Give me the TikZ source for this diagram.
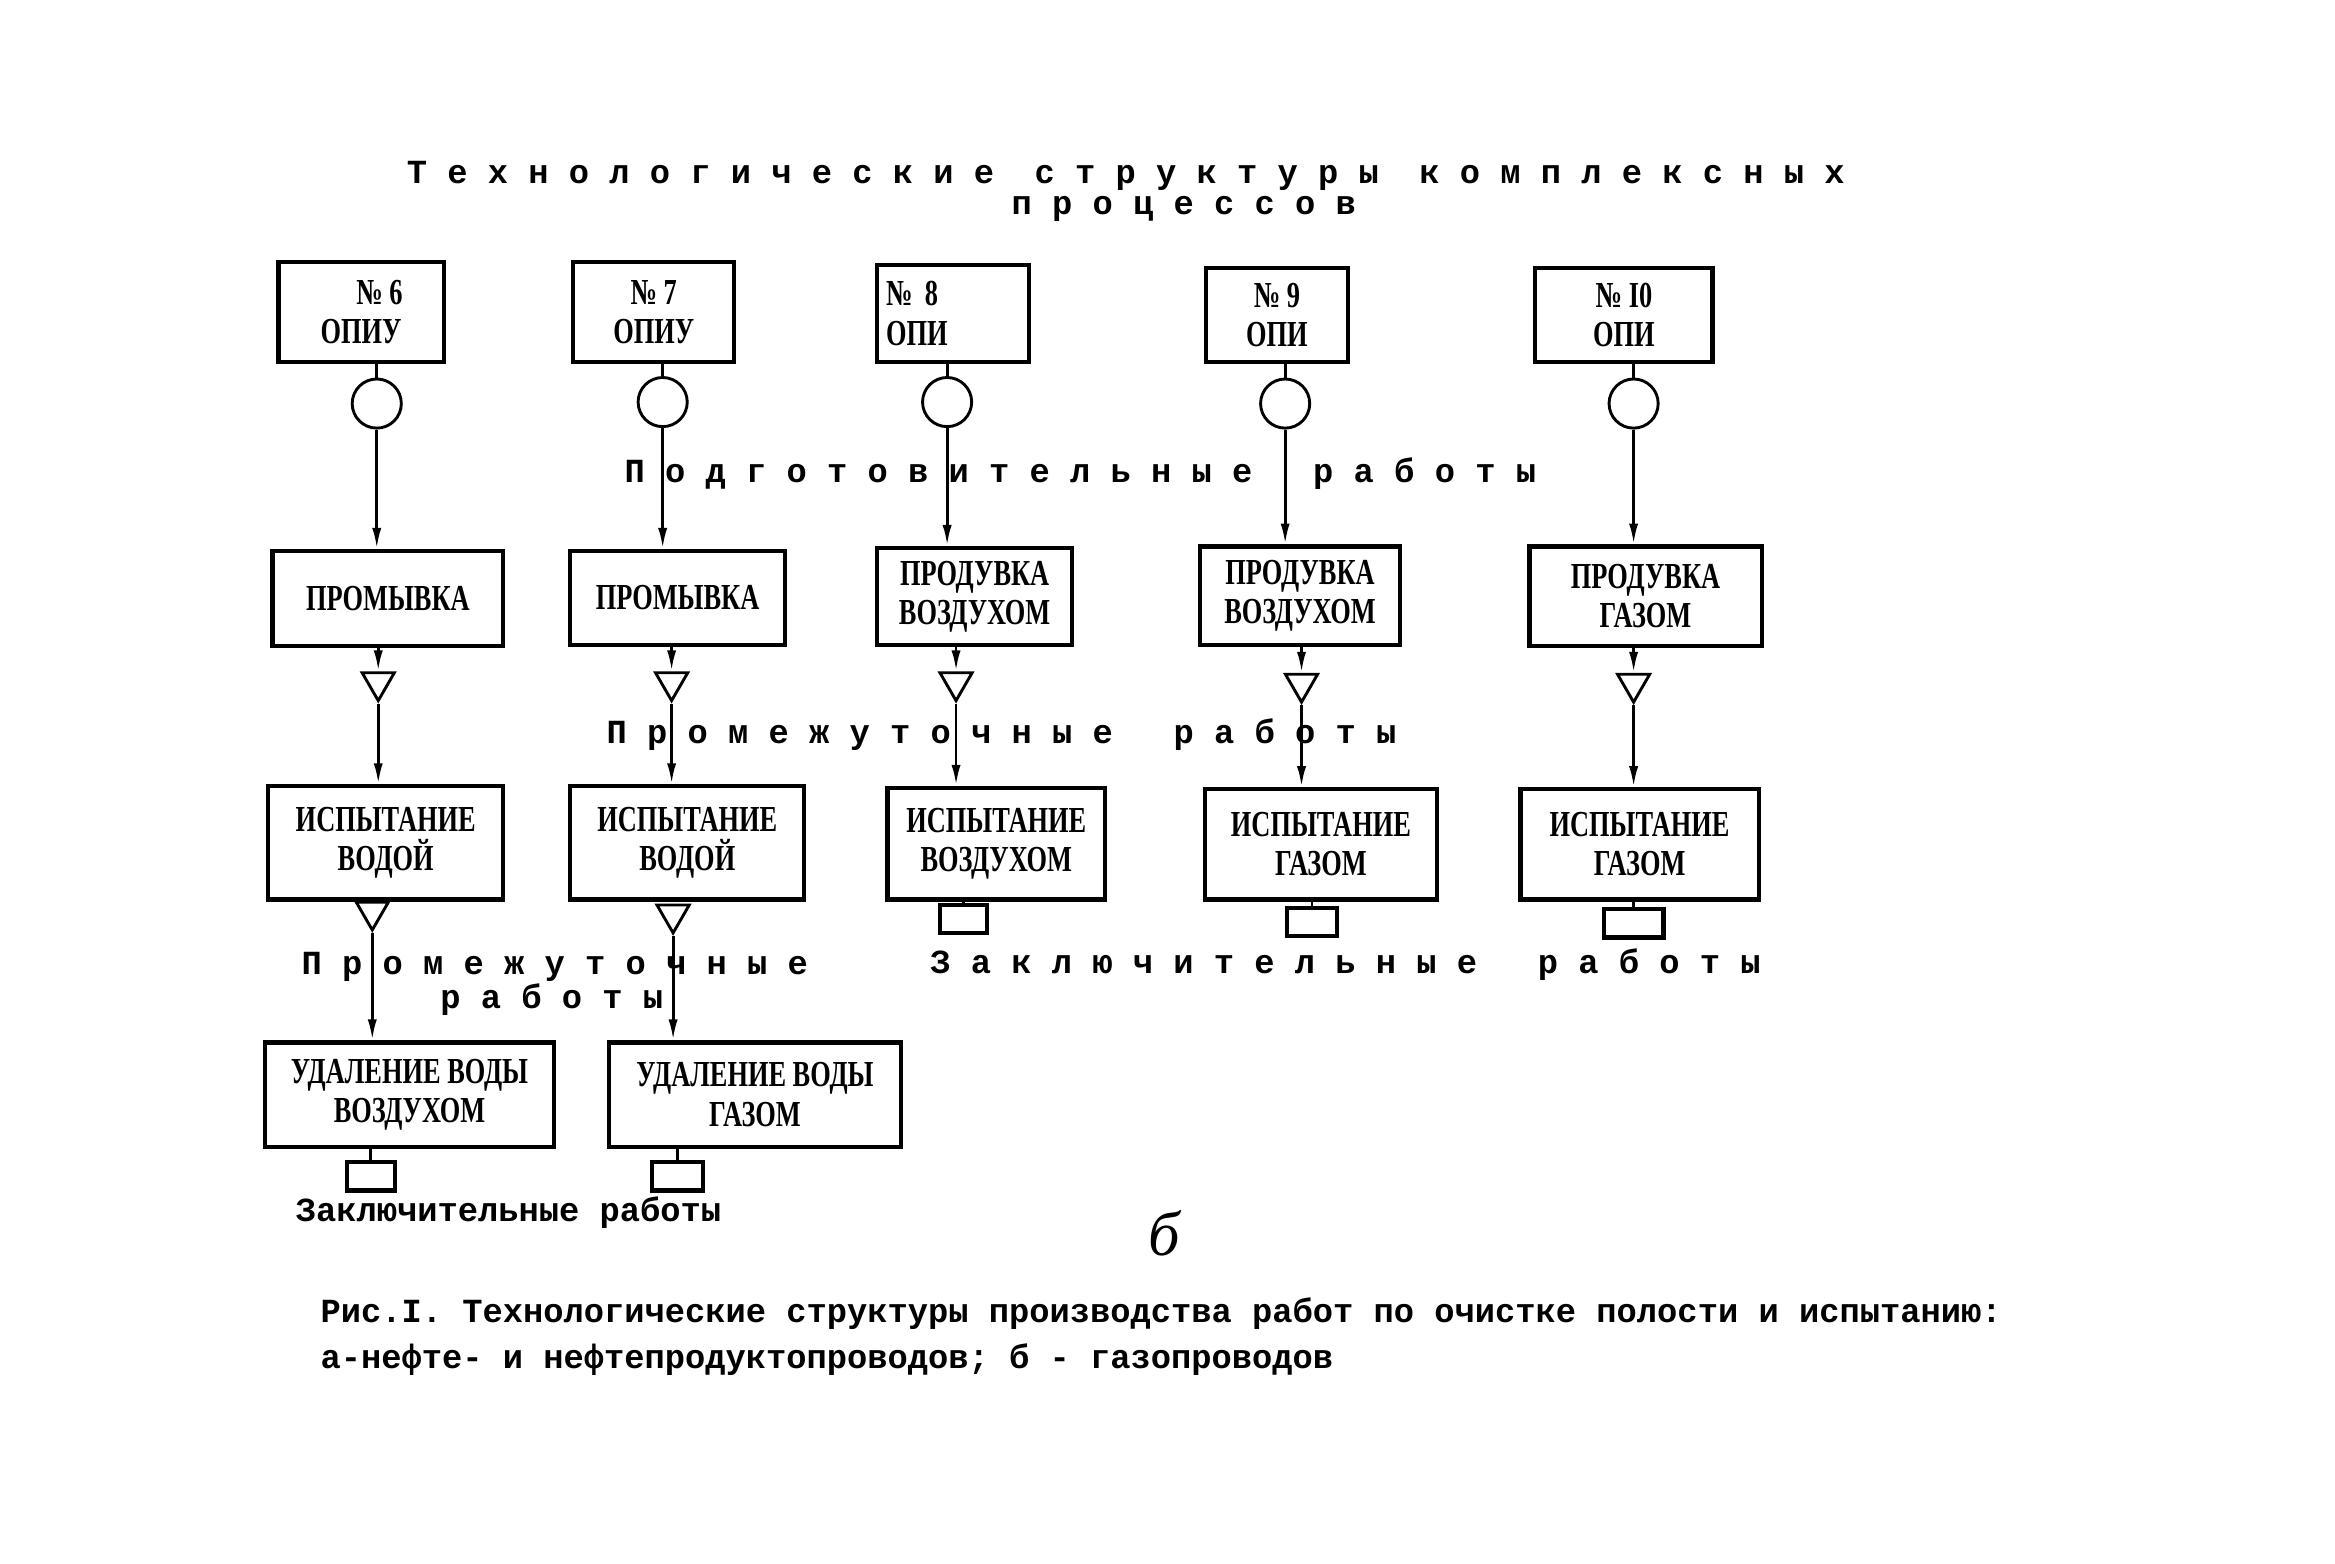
\documentclass[tikz,border=0pt]{standalone}
\usepackage{fontspec}
\setmainfont{Liberation Serif}
\newfontfamily\typefont{Liberation Mono}
\newfontfamily\boxfont[FakeStretch=0.72]{Liberation Serif}
\usetikzlibrary{shapes.geometric, arrows.meta, positioning, calc}
\tikzset{
  opibox/.style={
    rectangle, draw, line width=1.6pt,
    align=center, inner sep=2pt,
    font=\boxfont\bfseries\fontsize{14}{15}\selectfont
  },
  workbox/.style={opibox, minimum height=1.3cm},
  testbox/.style={opibox, minimum height=1.5cm},
  drybox/.style={opibox, minimum height=1.4cm},
  valve/.style={circle, draw, line width=1.1pt, minimum size=0.66cm, inner sep=0pt},
  holdmark/.style={
    regular polygon, regular polygon sides=3, shape border rotate=180,
    draw, line width=1.1pt, minimum size=0.5cm, inner sep=0pt
  },
  endmark/.style={rectangle, draw, line width=1.6pt, minimum width=0.64cm, minimum height=0.38cm, inner sep=0pt},
  conn/.style={line width=1.1pt},
  arr/.style={conn, -{Latex[length=8pt, width=3.5pt]}},
  txt/.style={font=\typefont\bfseries\fontsize{12.9}{15}\selectfont, inner sep=0pt}
}

\begin{document}
\begin{tikzpicture}[x=0.02cm, y=-0.02cm]
  \useasboundingbox (0,0) rectangle (1568,1050);

  % title
  \node[txt] (title1) at (756,118) {Т е х н о л о г и ч е с к и е~~с т р у к т у р ы~~к о м п л е к с н ы х};
  \node[txt] (title2) at (795,140) {п р о ц е с с о в};

  % top row: objects
  \node[opibox, minimum width=2.22cm, minimum height=1.34cm] (top6) at (242.5,209.5) {\quad№ 6\\ОПИУ};
  \node[opibox, minimum width=2.16cm, minimum height=1.34cm] (top7) at (439,209.5) {№ 7\\ОПИУ};
  \node[opibox, minimum width=2.04cm, minimum height=1.30cm, text width=1.8cm, align=left] (top8) at (640,210.5) {№ 8\\ОПИ};
  \node[opibox, minimum width=1.90cm, minimum height=1.26cm] (top9) at (857.5,211.5) {№ 9\\ОПИ};
  \node[opibox, minimum width=2.38cm, minimum height=1.26cm] (top10) at (1090.5,211.5) {№ I0\\ОПИ};

  \node[valve] (c6) at (253,271) {};
  \node[valve] (c7) at (445,270) {};
  \node[valve] (c8) at (636,270) {};
  \node[valve] (c9) at (863,271) {};
  \node[valve] (c10) at (1097,271) {};

  % preparatory works
  \node[workbox, minimum width=3.10cm, minimum height=1.28cm] (pr6) at (260.5,402) {ПРОМЫВКА};
  \node[workbox, minimum width=2.88cm, minimum height=1.26cm] (pr7) at (455,401.5) {ПРОМЫВКА};
  \node[workbox, minimum width=2.62cm] (pv8) at (654.5,400.5) {ПРОДУВКА\\ВОЗДУХОМ};
  \node[workbox, minimum width=2.68cm, minimum height=1.32cm] (pv9) at (873,400) {ПРОДУВКА\\ВОЗДУХОМ};
  \node[workbox, minimum width=3.12cm, minimum height=1.34cm] (pg10) at (1105,400.5) {ПРОДУВКА\\ГАЗОМ};

  \node[holdmark] (t6a) at (254,458) {};
  \node[holdmark] (t7a) at (451,458) {};
  \node[holdmark] (t8) at (642,458) {};
  \node[holdmark] (t9) at (874,459) {};
  \node[holdmark] (t10) at (1097,459) {};

  % tests
  \node[testbox, minimum width=3.16cm, minimum height=1.52cm] (isp6) at (259,566) {ИСПЫТАНИЕ\\ВОДОЙ};
  \node[testbox, minimum width=3.14cm, minimum height=1.52cm] (isp7) at (461.5,566) {ИСПЫТАНИЕ\\ВОДОЙ};
  \node[testbox, minimum width=2.92cm] (isp8) at (669,566.5) {ИСПЫТАНИЕ\\ВОЗДУХОМ};
  \node[testbox, minimum width=3.12cm, minimum height=1.48cm] (isp9) at (887,567) {ИСПЫТАНИЕ\\ГАЗОМ};
  \node[testbox, minimum width=3.20cm, minimum height=1.48cm] (isp10) at (1101,567) {ИСПЫТАНИЕ\\ГАЗОМ};

  \node[holdmark] (t6b) at (250,612) {};
  \node[holdmark] (t7b) at (452,614) {};

  \node[endmark] (z8) at (647,617) {};
  \node[endmark, minimum width=0.68cm] (z9) at (881,619) {};
  \node[endmark, minimum width=0.8cm] (z10) at (1097,620) {};

  % water removal
  \node[drybox, minimum width=3.88cm] (ud6) at (275,735) {УДАЛЕНИЕ ВОДЫ\\ВОЗДУХОМ};
  \node[drybox, minimum width=3.92cm] (ud7) at (507,735) {УДАЛЕНИЕ ВОДЫ\\ГАЗОМ};

  \node[endmark] (z6) at (249,790) {};
  \node[endmark, minimum width=0.68cm] (z7) at (455,790) {};

  % stage labels
  \node[txt] (prep) at (725.5,318) {П о д г о т о в и т е л ь н ы е~~~р а б о т ы};
  \node[txt] (mid1) at (672.5,493) {П р о м е ж у т о ч н ы е~~~р а б о т ы};
  \node[txt] (mid2) at (372.5,649) {П р о м е ж у т о ч н ы е};
  \node[txt] (mid2b) at (370.5,671) {р а б о т ы};
  \node[txt] (fin1) at (903.5,648) {З а к л ю ч и т е л ь н ы е~~~р а б о т ы};
  \node[txt] (fin2) at (341.5,814) {Заключительные работы};

  \node[font=\itshape\fontsize{24}{28}\selectfont] (part) at (782,828) {б};

  % caption
  \node[txt, anchor=west] (cap1) at (215,882) {Рис.I. Технологические структуры производства работ по очистке полости и испытанию:};
  \node[txt, anchor=west] (cap2) at (215,913) {а-нефте- и нефтепродуктопроводов; б - газопроводов};

  % object -> valve -> preparation
  \foreach \n/\p in {6/pr6, 7/pr7, 8/pv8, 9/pv9, 10/pg10} {
    \draw[conn] (top\n.south -| c\n) -- (c\n);
    \draw[arr] (c\n) -- (c\n |- \p.north);
  }

  % preparation -> pause -> test
  \draw[arr] (pr6.south -| t6a) -- (t6a.north);
  \draw[arr] (pr7.south -| t7a) -- (t7a.north);
  \draw[arr] (pv8.south -| t8) -- (t8.north);
  \draw[arr] (pv9.south -| t9) -- (t9.north);
  \draw[arr] (pg10.south -| t10) -- (t10.north);
  \draw[arr] (t6a.south) -- (t6a |- isp6.north);
  \draw[arr] (t7a.south) -- (t7a |- isp7.north);
  \draw[arr] (t8.south) -- (t8 |- isp8.north);
  \draw[arr] (t9.south) -- (t9 |- isp9.north);
  \draw[arr] (t10.south) -- (t10 |- isp10.north);

  % test -> water removal
  \draw[arr] (t6b.south) -- (t6b |- ud6.north);
  \draw[arr] (t7b.south) -- (t7b |- ud7.north);

  % final works
  \draw[conn] (isp8.south -| z8) -- (z8.north);
  \draw[conn] (isp9.south -| z9) -- (z9.north);
  \draw[conn] (isp10.south -| z10) -- (z10.north);
  \draw[conn] (ud6.south -| z6) -- (z6.north);
  \draw[conn] (ud7.south -| z7) -- (z7.north);
\end{tikzpicture}
\end{document}
